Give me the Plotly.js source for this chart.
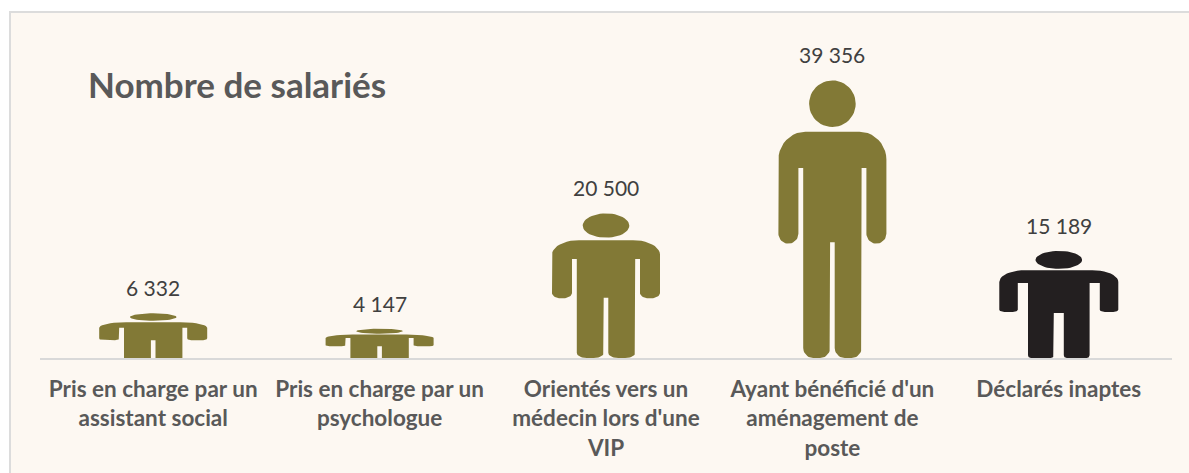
<!DOCTYPE html>
<html><head><meta charset="utf-8">
<script src="https://cdn.plot.ly/plotly-3.0.1.min.js"></script>
<style>
html,body{margin:0;padding:0;background:#fff;overflow:hidden}
#card{position:absolute;left:9px;top:11px;width:1200px;height:480px;background:#FDF8F2;border:2px solid #DCDCDC;box-sizing:border-box}
#chart{position:absolute;left:0;top:0;width:1189px;height:473px}
</style></head><body>
<div id="card"></div><div id="chart"></div>
<script>
const categories = ["Pris en charge par un<br>assistant social","Pris en charge par un<br>psychologue","Orientés vers un<br>médecin lors d'une<br>VIP","Ayant bénéficié d'un<br>aménagement de<br>poste","Déclarés inaptes"];
const salaries = [6332,4147,20500,39356,15189];
const valueLabels = ["6 332","4 147","20 500","39 356","15 189"];
const figureColors = ["#827936","#827936","#827936","#827936","#231F20"];

const PXX = 1/226.4;
const halfA = [
 [-2.3,.4166,0,0],[-2.3,0,10,.036],[-29.2,0,10,.036],[-29.2,.684,0,0],[-34,.684,0,0],
 [-34,.412,10,.036],[-54,.412,10,.036],[-54,.815,27,.1]];
const halfS = [
 [-2.3,.40,0,0],[-2.3,0,0,0],[-29.2,0,0,0],[-29.2,.68,0,0],[-34,.68,0,0],
 [-34,.40,4,.04],[-54,.40,4,.04],[-54,.80,27,.12]];
const halfB = [
 [-5,.42,0,0],[-5,0,3,.025],[-30.8,0,3,.025],[-30.8,.70,0,0],[-41,.70,0,0],
 [-41,.43,5,.02],[-59.5,.43,5,.02],[-59.5,.82,26,.11]];
const full = h => h.concat(h.slice().reverse().map(v=>[-v[0],v[1],v[2],v[3]]));
const outlines = [full(halfS),full(halfS),full(halfA),full(halfA),full(halfB)];
function silhouette(i,value){
  const xs=[],ys=[];
  const outline=outlines[i];
  const n=outline.length;
  for(let k=0;k<n;k++){
    const V=outline[k],P=outline[(k+n-1)%n],N=outline[(k+1)%n];
    if(!V[2]){xs.push(V[0]);ys.push(V[1]);continue;}
    const step=(F)=> F[0]!==V[0] ? [V[0]+Math.sign(F[0]-V[0])*V[2],V[1]] : [V[0],V[1]+Math.sign(F[1]-V[1])*V[3]];
    const A=step(P),B=step(N),C=[A[0]+B[0]-V[0],A[1]+B[1]-V[1]];
    for(let j=0;j<=10;j++){const t=j/10*Math.PI/2;
      xs.push(C[0]+(A[0]-C[0])*Math.cos(t)+(B[0]-C[0])*Math.sin(t));
      ys.push(C[1]+(A[1]-C[1])*Math.cos(t)+(B[1]-C[1])*Math.sin(t));}
  }
  xs.push(xs[0]);ys.push(ys[0]);xs.push(null);ys.push(null);
  for(let j=0;j<=48;j++){const t=j/48*2*Math.PI;xs.push(23.3*Math.cos(t));ys.push(.916+.084*Math.sin(t));}
  return {type:'scatter',mode:'lines',fill:'toself',fillcolor:figureColors[i],line:{width:0,color:figureColors[i]},
    x:xs.map(v=>v===null?null:i+v*PXX),y:ys.map(v=>v===null?null:v*value),
    name:categories[i].replace(/<br>/g,' '),hoverinfo:'name+text',text:valueLabels[i],showlegend:false};
}
const traces = salaries.map((v,i)=>silhouette(i,v));
const annotations = salaries.map((v,i)=>({x:i,y:v,xref:'x',yref:'y',text:valueLabels[i],showarrow:false,yanchor:'bottom',yshift:11,
   font:{family:'Lato, sans-serif',size:21,color:'#404040'}}));
const layout = {
  width:1189,height:473,margin:{l:40,r:17,t:30,b:115},paper_bgcolor:'rgba(0,0,0,0)',plot_bgcolor:'rgba(0,0,0,0)',
  title:{text:'<b>Nombre de salariés</b>',x:88/1189,xanchor:'left',y:1-86/473,yanchor:'middle',font:{family:'Lato, sans-serif',size:35,color:'#595959'}},
  xaxis:{range:[-.5,4.5],tickmode:'array',tickvals:[0,1,2,3,4],ticktext:categories,showgrid:false,zeroline:false,showline:true,linecolor:'#D9D9D9',linewidth:2,ticks:'',
    ticklabelstandoff:10,tickfont:{family:'Lato, sans-serif',size:22.5,color:'#595959',weight:700},automargin:false,fixedrange:true},
  yaxis:{range:[0,46500],visible:false,fixedrange:true},
  annotations,showlegend:false
};
Plotly.newPlot('chart',traces,layout,{displayModeBar:false,staticPlot:true});
</script></body></html>
